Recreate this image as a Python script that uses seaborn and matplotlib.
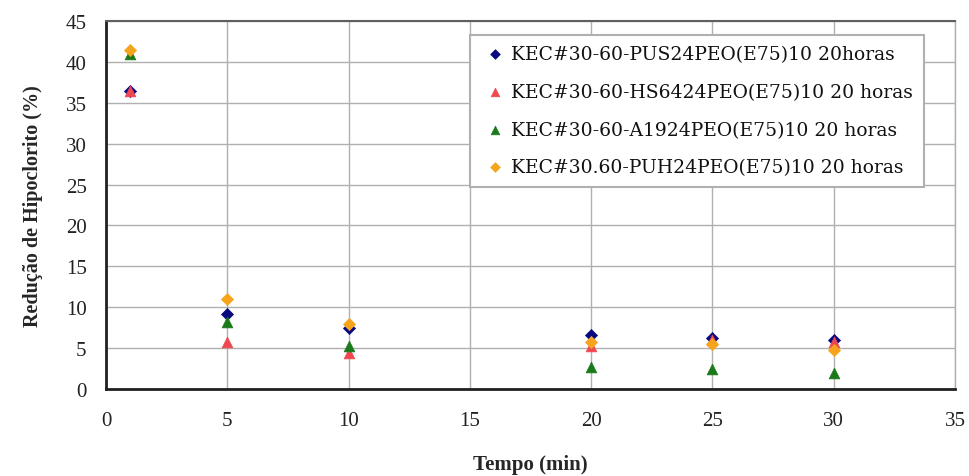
import matplotlib
matplotlib.use("Agg")
import matplotlib.pyplot as plt
import seaborn as sns
import pandas as pd

# Tempo de contato (min)
tempo = [1, 5, 10, 20, 25, 30]

# Redução de hipoclorito (%) por membrana
pus24 = [36.5, 9.2, 7.5, 6.6, 6.2, 6.0]
hs6424 = [36.5, 5.8, 4.4, 5.3, 6.0, 5.8]
a1924 = [41.0, 8.2, 5.2, 2.7, 2.5, 1.9]
puh24 = [41.5, 11.0, 8.0, 5.8, 5.5, 4.8]

series_names = [
    "KEC#30-60-PUS24PEO(E75)10 20horas",
    "KEC#30-60-HS6424PEO(E75)10 20 horas",
    "KEC#30-60-A1924PEO(E75)10 20 horas",
    "KEC#30.60-PUH24PEO(E75)10 20 horas",
]
series_values = [pus24, hs6424, a1924, puh24]
colors = ["#0a0a80", "#f04850", "#1a7a1a", "#f5a41c"]
markers = ["D", "^", "^", "D"]
sizes = [38, 60, 60, 38]

rows = []
for name, vals in zip(series_names, series_values):
    for t, v in zip(tempo, vals):
        rows.append({"Tempo": t, "Reducao": v, "Serie": name})
df = pd.DataFrame(rows)

sns.set_style("white")
plt.rcParams["font.family"] = ["Liberation Serif", "DejaVu Serif"]

fig = plt.figure(figsize=(9.7, 4.77), dpi=100)
ax = fig.add_axes([0.1093, 0.1824, 0.8752, 0.7715])

for name, col, mk, sz in zip(series_names, colors, markers, sizes):
    sns.scatterplot(
        data=df[df["Serie"] == name], x="Tempo", y="Reducao",
        color=col, marker=mk, s=sz, edgecolor=col, linewidth=0.5,
        label=name, ax=ax, zorder=3,
    )

ax.set_xlim(0, 35)
ax.set_ylim(0, 45)
ax.set_xticks(range(0, 36, 5))
ax.set_yticks(range(0, 46, 5))
ax.grid(True, color="#b0b0b0", linewidth=1.0)
ax.set_axisbelow(True)

for side in ["left", "bottom"]:
    ax.spines[side].set_color("#202020")
    ax.spines[side].set_linewidth(2.0)
ax.spines["top"].set_color("#606060")
ax.spines["top"].set_linewidth(1.5)
ax.spines["right"].set_color("#b0b0b0")
ax.spines["right"].set_linewidth(1.0)

ax.tick_params(axis="both", direction="out", length=5, width=1.2,
               color="#202020", labelsize=15, labelcolor="#222222")
ax.tick_params(axis="x", pad=11)
ax.tick_params(axis="y", pad=9)
for lbl in ax.get_xticklabels() + ax.get_yticklabels():
    lbl.set_fontfamily(["Liberation Serif"])

ax.set_xlabel("Tempo (min)", fontsize=15, fontweight="bold", labelpad=17)
ax.set_ylabel("Redução de Hipoclorito (%)", fontsize=14.5, fontweight="bold", labelpad=16)

leg = ax.legend(
    loc="upper right", bbox_to_anchor=(0.963, 0.962),
    prop={"family": ["DejaVu Serif"], "size": 13.5},
    frameon=True, fancybox=False, edgecolor="#b0b0b0", framealpha=1.0,
    handletextpad=0.05, handlelength=1.6, borderpad=0.55, labelspacing=1.05,
    markerscale=0.8, borderaxespad=0.0, labelcolor="#111111",
)
leg.get_frame().set_linewidth(1.5)

fig.savefig("out.png", dpi=100)
